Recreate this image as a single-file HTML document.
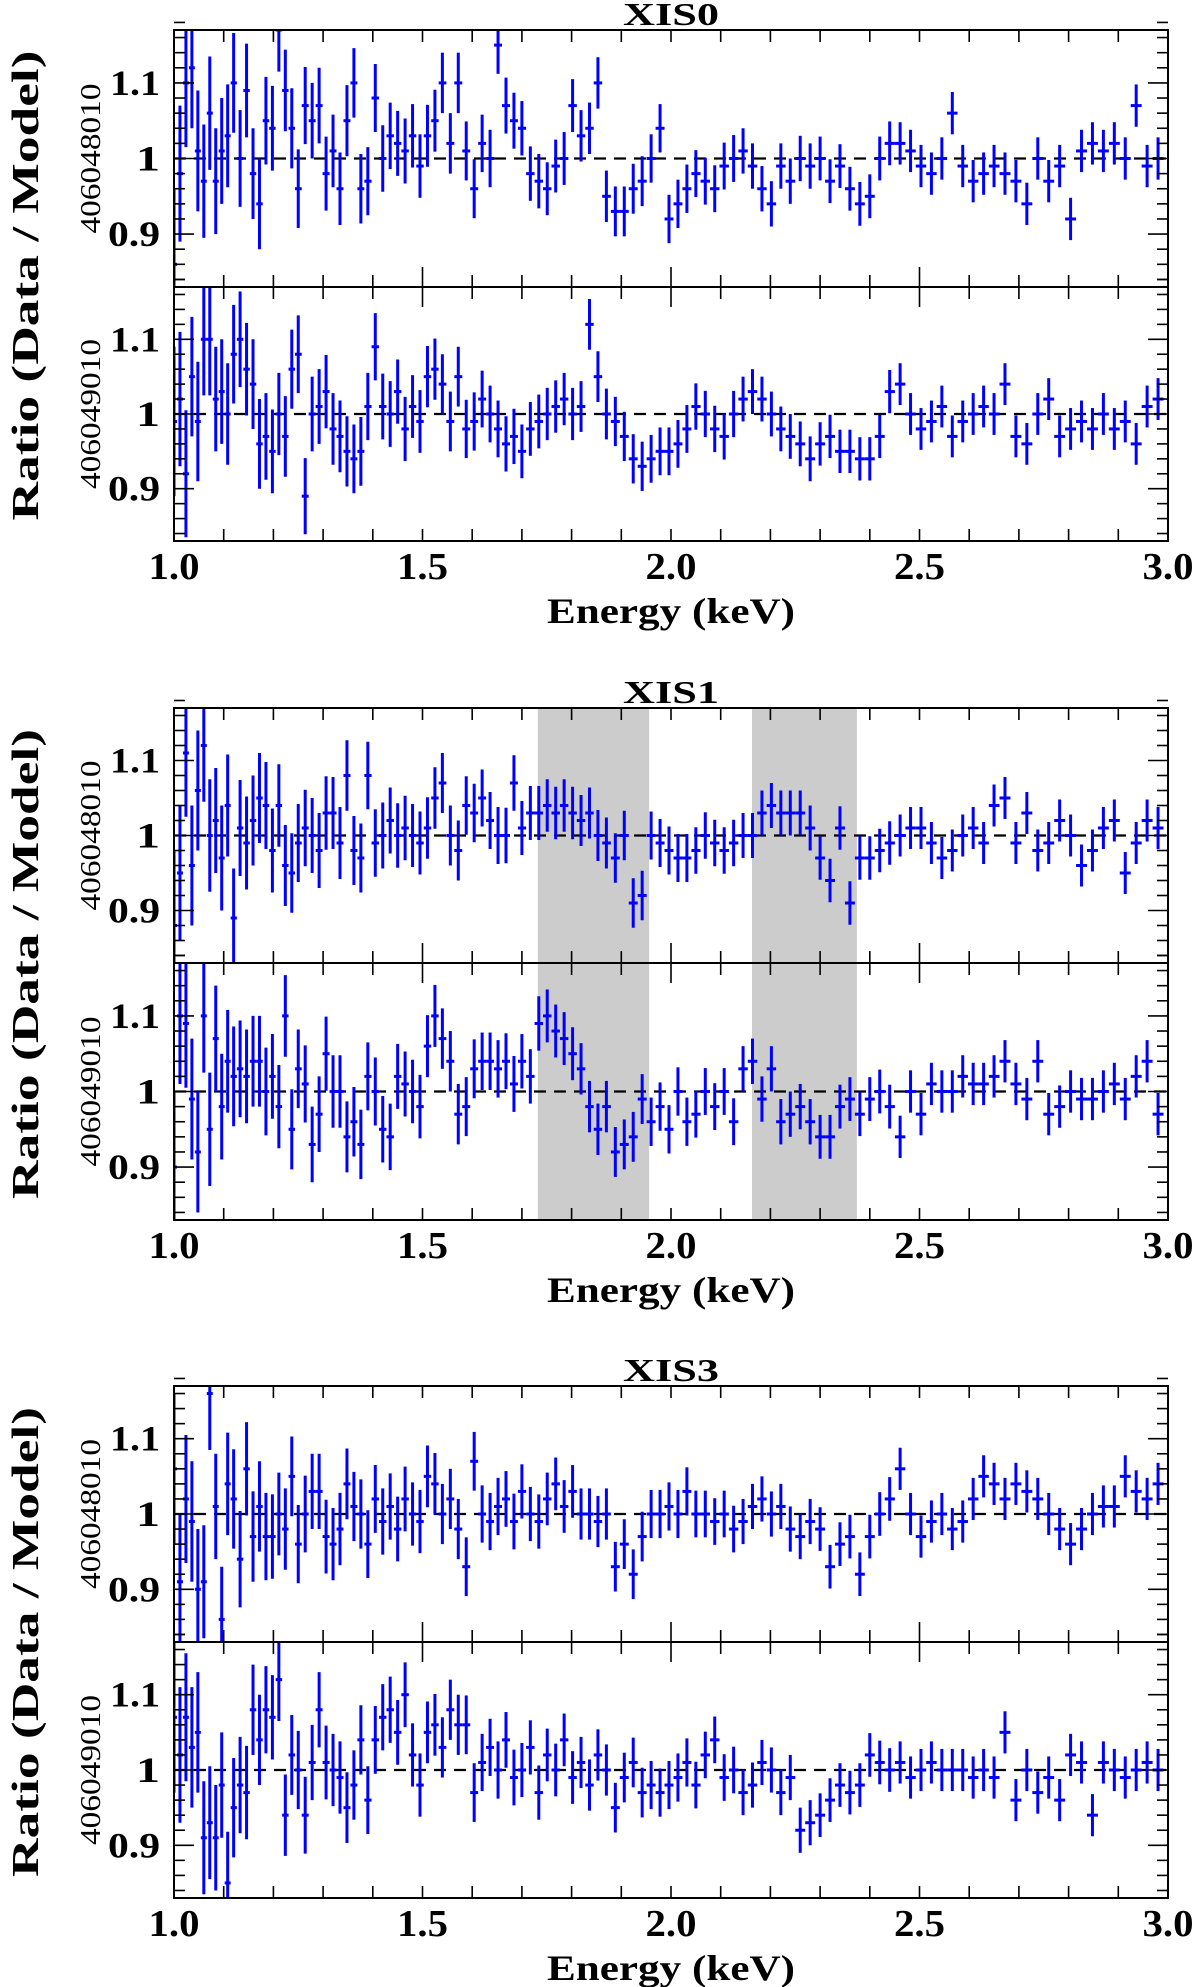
<!DOCTYPE html>
<html><head><meta charset="utf-8"><style>
html,body{margin:0;padding:0;background:#fff;}
svg{display:block;}
text{font-family:"Liberation Serif",serif;fill:#000;}
</style></head><body>
<svg id="chart" width="1200" height="1987" viewBox="0 0 1200 1987" xmlns="http://www.w3.org/2000/svg"></svg>
<script>
const energies=[1.000,1.012,1.024,1.036,1.048,1.060,1.072,1.084,1.096,1.108,
1.120,1.133,1.146,1.159,1.172,1.185,1.198,1.211,1.224,1.237,
1.250,1.264,1.278,1.292,1.306,1.320,1.334,1.348,1.362,1.376,
1.390,1.405,1.420,1.435,1.450,1.465,1.480,1.495,1.510,1.525,
1.540,1.556,1.572,1.588,1.604,1.620,1.636,1.652,1.668,1.684,
1.700,1.717,1.734,1.751,1.768,1.785,1.802,1.819,1.836,1.853,
1.870,1.888,1.906,1.924,1.942,1.960,1.978,1.996,2.014,2.032,
2.050,2.069,2.088,2.107,2.126,2.145,2.164,2.183,2.202,2.221,
2.240,2.260,2.280,2.300,2.320,2.340,2.360,2.380,2.400,2.420,
2.440,2.461,2.482,2.503,2.524,2.545,2.566,2.587,2.608,2.629,
2.650,2.672,2.694,2.716,2.738,2.760,2.782,2.804,2.826,2.848,
2.870,2.892,2.914,2.936,2.958,2.980];
const errors=[.10,.09,.085,.08,.08,.075,.075,.07,.07,.068,
.066,.064,.062,.06,.06,.058,.056,.055,.054,.053,
.052,.051,.05,.05,.049,.048,.048,.047,.046,.046,
.045,.045,.044,.044,.043,.043,.042,.042,.041,.041,
.04,.04,.04,.039,.039,.038,.038,.038,.037,.037,
.036,.036,.036,.035,.035,.035,.035,.034,.034,.034,
.034,.033,.033,.033,.033,.032,.032,.032,.032,.032,
.031,.031,.031,.031,.031,.03,.03,.03,.03,.03,
.03,.03,.03,.029,.029,.029,.029,.029,.029,.029,
.029,.028,.028,.028,.028,.028,.028,.028,.028,.028,
.028,.028,.028,.028,.028,.028,.028,.028,.028,.028,
.028,.028,.028,.028,.028,.028];
const xis0_48010=[0.86,0.98,1.10,1.12,1.01,0.97,1.06,0.97,1.01,1.03,
1.10,1.00,1.09,0.98,0.94,1.05,1.04,1.17,1.09,1.04,
0.96,1.07,1.05,1.07,0.98,1.01,0.96,1.05,1.10,0.96,
0.97,1.08,1.00,1.03,1.02,1.01,1.03,0.99,1.03,1.05,
1.10,1.02,1.10,1.01,0.96,1.02,1.00,1.15,1.07,1.05,
1.04,0.98,0.97,0.96,0.99,1.00,1.07,1.03,1.04,1.10,
0.95,0.93,0.93,0.96,0.97,1.00,1.04,0.92,0.94,0.96,
0.98,0.97,0.96,0.99,1.00,1.01,0.99,0.96,0.94,0.99,
0.97,1.00,0.99,1.00,0.97,0.99,0.96,0.94,0.95,1.00,
1.02,1.02,1.01,0.99,0.98,1.00,1.06,0.99,0.97,0.98,
0.99,0.98,0.97,0.94,1.00,0.97,0.99,0.92,1.01,1.02,
1.01,1.02,1.00,1.07,0.99,1.00];
const xis0_49010=[0.99,1.02,0.92,1.05,0.99,1.10,1.10,1.02,1.03,1.00,
1.08,1.10,1.06,1.04,0.96,0.97,0.95,1.00,0.97,1.06,
1.08,0.89,1.00,1.01,1.03,0.98,0.97,0.95,0.94,0.95,
1.01,1.09,1.01,1.00,1.03,0.98,1.01,0.99,1.05,1.06,
1.04,0.99,1.05,0.98,0.99,1.02,1.00,0.98,0.96,0.97,
0.95,0.98,0.99,1.00,1.01,1.02,1.00,1.01,1.12,1.05,
1.00,0.99,0.97,0.94,0.93,0.94,0.95,0.95,0.96,0.98,
1.01,1.00,0.98,0.97,1.00,1.02,1.03,1.02,1.00,0.98,
0.97,0.96,0.94,0.96,0.97,0.95,0.95,0.94,0.94,0.97,
1.03,1.04,1.00,0.98,0.99,1.01,0.97,0.99,1.00,1.01,
1.00,1.04,0.97,0.96,1.00,1.02,0.97,0.98,0.99,0.98,
1.00,0.98,0.99,0.96,1.01,1.02];
const xis1_48010=[0.88,0.95,1.11,0.96,1.06,1.12,1.00,1.02,0.97,1.04,
0.89,1.01,0.99,1.02,1.05,1.04,0.98,1.04,0.96,0.95,
0.99,1.01,1.00,0.98,1.03,1.03,0.99,1.08,0.98,0.97,
1.08,0.99,1.00,1.02,1.00,1.01,1.00,0.99,1.01,1.05,
1.07,1.00,0.98,1.04,1.03,1.05,1.02,1.00,1.00,1.07,
1.01,1.03,1.03,1.04,1.03,1.04,1.03,1.02,1.03,1.00,
0.99,0.97,1.00,0.91,0.92,1.00,0.99,0.98,0.97,0.97,
0.98,1.00,0.99,0.98,0.99,1.00,1.00,1.03,1.04,1.03,
1.03,1.03,1.01,0.97,0.94,1.01,0.91,0.97,0.97,0.98,
0.99,1.00,1.01,1.01,0.99,0.97,0.98,1.00,1.01,0.99,
1.04,1.05,0.99,1.03,0.98,0.99,1.02,1.00,0.96,0.98,
1.01,1.02,0.95,0.99,1.02,1.01];
const xis1_49010=[0.90,1.10,1.09,0.99,0.92,1.10,0.95,1.07,0.98,1.04,
1.02,1.03,1.02,1.04,1.04,1.00,1.02,0.98,1.10,0.95,
1.03,1.01,0.93,0.97,1.05,1.00,1.00,0.94,0.96,0.93,
1.02,1.00,0.95,0.94,1.02,1.01,1.00,0.98,1.06,1.10,
1.07,1.04,0.97,0.98,1.03,1.04,1.04,1.03,1.04,1.01,
1.04,1.02,1.09,1.10,1.08,1.07,1.05,1.03,0.98,0.95,
0.98,0.92,0.93,0.94,0.99,0.96,0.98,0.95,1.00,0.96,
0.97,1.00,0.98,1.00,0.96,1.03,1.04,0.99,1.03,0.96,
0.97,0.98,0.96,0.94,0.94,0.98,0.99,0.97,0.99,1.00,
0.98,0.94,1.00,0.97,1.01,1.00,1.00,1.02,1.01,1.01,
1.02,1.04,1.01,0.99,1.04,0.97,0.98,1.00,0.99,0.99,
1.00,1.01,0.99,1.02,1.04,0.97];
const xis3_48010=[1.06,0.91,1.02,0.99,0.90,0.91,1.16,1.01,0.86,1.04,
1.02,0.94,1.06,0.97,1.01,0.97,0.97,1.00,0.98,1.05,
0.96,1.00,1.03,1.03,0.97,0.96,0.98,1.04,1.01,1.00,
0.96,1.02,0.99,1.01,0.98,1.02,1.00,0.99,1.05,1.04,
1.00,1.02,0.98,0.93,1.07,1.00,0.99,1.01,1.02,0.99,
1.03,1.00,0.99,1.02,1.04,1.01,1.03,1.00,1.00,0.99,
1.00,0.93,0.96,0.92,0.97,1.00,1.00,1.01,1.00,1.03,
1.00,1.00,0.99,1.00,0.98,0.99,1.01,1.02,1.00,1.01,
0.98,0.97,0.99,0.98,0.93,0.96,0.97,0.92,0.97,1.00,
1.02,1.06,1.00,0.97,0.99,1.00,0.98,0.99,1.02,1.05,
1.04,1.02,1.04,1.03,1.02,1.00,0.98,0.96,0.98,1.00,
1.01,1.01,1.05,1.03,1.02,1.04];
const xis3_49010=[1.07,1.02,1.07,1.03,1.05,0.91,0.93,0.91,0.98,0.85,
0.95,0.98,0.97,1.08,1.04,1.08,1.07,1.12,0.94,1.02,
1.00,0.94,1.01,1.08,1.01,1.00,0.99,0.95,0.98,1.04,
0.96,1.04,1.07,1.08,1.05,1.10,1.02,0.98,1.05,1.06,
1.03,1.08,1.06,1.06,0.97,1.01,1.03,1.00,1.04,0.99,
1.00,1.03,0.97,1.02,1.00,1.04,0.99,1.01,0.98,1.02,
1.00,0.95,0.99,1.01,0.97,0.98,0.97,0.98,0.99,1.01,
0.98,1.02,1.04,0.99,1.00,0.97,0.98,1.01,1.00,0.97,
0.99,0.92,0.93,0.94,0.96,0.98,0.97,0.98,1.02,1.01,
1.00,1.01,0.99,1.00,1.01,1.00,1.00,1.00,0.99,1.00,
0.99,1.05,0.96,1.00,0.97,0.99,0.96,1.02,1.01,0.94,
1.01,1.00,0.99,1.00,1.01,1.00];
const xTickLabels=["1.0","1.5","2.0","2.5","3.0"];
const xTickValues=[1.0,1.5,2.0,2.5,3.0];
const yTickLabels=["1.1","1","0.9"];
const yTickValues=[1.1,1.0,0.9];
const shadedBands=[[1.732,1.956],[2.163,2.374]];
const instruments=["XIS0","XIS1","XIS3"];
const obsLabels=["406048010","406049010"];

const NS="http://www.w3.org/2000/svg";
const svg=document.getElementById('chart');
const X0=174,X1=1168,EMIN=1.0,EMAX=3.0,YMIN=0.83,YMAX=1.17;
const xs=e=>X0+(e-EMIN)/(EMAX-EMIN)*(X1-X0);
function mk(tag,attrs,parent){const el=document.createElementNS(NS,tag);for(const k in attrs)el.setAttribute(k,attrs[k]);(parent||svg).appendChild(el);return el;}

const panels=[
 {name:"XIS0",top:30,div:287,bot:541,series:[xis0_48010,xis0_49010],shade:false},
 {name:"XIS1",top:708,div:963,bot:1220,series:[xis1_48010,xis1_49010],shade:true},
 {name:"XIS3",top:1386,div:1642,bot:1898,series:[xis3_48010,xis3_49010],shade:false}
];

panels.forEach((p,pi)=>{
 const g=mk('g',{});
 
 
 const t=mk('text',{x:(X0+X1)/2,y:p.top-5,'text-anchor':'middle','font-size':32,'font-weight':'bold',textLength:96,lengthAdjust:'spacingAndGlyphs'},g);
 t.textContent=instruments[pi];
 
 
 const subs=[[p.top,p.div],[p.div,p.bot]];
 subs.forEach((s,si)=>{
  const [ya,yb]=s;
  const ys=v=>yb-(v-YMIN)/(YMAX-YMIN)*(yb-ya);
  const sg=mk('g',{},g);
  
  
  const cid='clip'+pi+'_'+si;
  const cp=mk('clipPath',{id:cid},sg);
  mk('rect',{x:X0,y:ya,width:X1-X0,height:yb-ya},cp);
  if(p.shade){shadedBands.forEach((b,bi)=>{
   const r=mk('rect',{x:xs(b[0]),y:ya,width:xs(b[1])-xs(b[0]),height:yb-ya,fill:'#cccccc'},sg);
   
   
  });}
  const dl=mk('line',{x1:X0,x2:X1,y1:ys(1),y2:ys(1),stroke:'#000','stroke-width':2.2,'stroke-dasharray':'12,8'},sg);
  
  
  const dg=mk('g',{'clip-path':'url(#'+cid+')',stroke:'#0000ff','stroke-width':3},sg);
  
  
  const vals=p.series[si];
  vals.forEach((v,i)=>{
   const e=energies[i];
   const lo=i>0?(e+energies[i-1])/2:e-(energies[1]-energies[0])/2;
   const hi=i<energies.length-1?(e+energies[i+1])/2:e+(e-energies[i-1])/2;
   const er=errors[i];
   const a=mk('line',{x1:xs(e),x2:xs(e),y1:ys(v-er),y2:ys(v+er)},dg);
   
   
   const b=mk('line',{x1:xs(lo),x2:xs(hi),y1:ys(v),y2:ys(v)},dg);
   
   
  });
  for(let k=0;k<=17;k++){const v=0.84+k*0.02;const y=ys(v);
   const major=Math.abs(Math.round(v*10)-v*10)<1e-6;const len=major?20:11;
   mk('line',{x1:X0,x2:X0+len,y1:y,y2:y,stroke:'#000','stroke-width':1.6},sg);
   mk('line',{x1:X1,x2:X1-len,y1:y,y2:y,stroke:'#000','stroke-width':1.6},sg);}
  const yLens=[50,24,52];
  yTickValues.forEach((v,k)=>{
   const tl=mk('text',{x:160-yLens[k],y:ys(v)+12,'font-size':36,'font-weight':'bold',textLength:yLens[k],lengthAdjust:'spacingAndGlyphs'},sg);
   tl.textContent=yTickLabels[k];
   
   
  });
  for(let k=0;k<=20;k++){const e=1+k*0.1;const x=xs(e);
   const major=(k%5===0);
   mk('line',{x1:x,x2:x,y1:ya,y2:ya+(major&&si===1?20:12),stroke:'#000','stroke-width':1.6},sg);
   mk('line',{x1:x,x2:x,y1:yb,y2:yb-(major&&si===0?20:12),stroke:'#000','stroke-width':1.6},sg);}
  const ol=mk('text',{transform:'translate(100,'+((ya+yb)/2)+') rotate(-90)','text-anchor':'middle','font-size':29,textLength:150,lengthAdjust:'spacingAndGlyphs'},sg);
  ol.textContent=obsLabels[si];
  
  
 });
 const fr=mk('rect',{x:X0,y:p.top,width:X1-X0,height:p.bot-p.top,fill:'none',stroke:'#000','stroke-width':2},g);
 
 
 mk('line',{x1:X0,x2:X1,y1:p.div,y2:p.div,stroke:'#000','stroke-width':2},g);
 xTickValues.forEach((v,k)=>{
  const tl=mk('text',{x:xs(v),y:p.bot+38,'text-anchor':'middle','font-size':38,'font-weight':'bold',textLength:51,lengthAdjust:'spacingAndGlyphs'},g);
  tl.textContent=xTickLabels[k];
  
  
 });
 const xl=mk('text',{x:(X0+X1)/2,y:p.bot+82,'text-anchor':'middle','font-size':36,'font-weight':'bold',textLength:248,lengthAdjust:'spacingAndGlyphs'},g);
 xl.textContent='Energy (keV)';
 
 
 const yl=mk('text',{transform:'translate(38,'+((p.top+p.bot)/2)+') rotate(-90)','text-anchor':'middle','font-size':38,'font-weight':'bold',textLength:470,lengthAdjust:'spacingAndGlyphs'},g);
 yl.textContent='Ratio (Data / Model)';
 
 
});
</script>
</body></html>
